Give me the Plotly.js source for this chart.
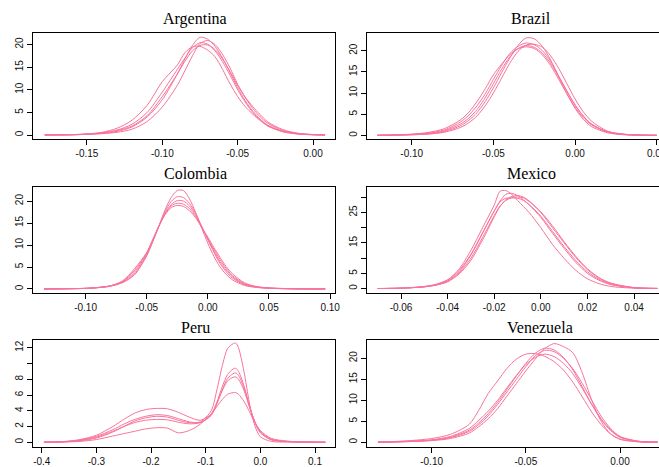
<!DOCTYPE html>
<html>
<head>
<meta charset="utf-8">
<script src="https://cdn.plot.ly/plotly-3.0.1.min.js"></script>
<style>html,body{margin:0;padding:0;background:#fff;}#chart{width:659px;height:467px;}</style>
</head>
<body>
<div id="chart"></div>
<script>
// ---------------- DATA ----------------
var countries = ['Argentina', 'Brazil', 'Colombia', 'Mexico', 'Peru', 'Venezuela'];

var argentinaX = [-0.178,-0.16,-0.15,-0.14,-0.13,-0.12,-0.11,-0.10,-0.09,-0.085,-0.08,-0.075,-0.07,-0.065,-0.06,-0.055,-0.05,-0.045,-0.04,-0.035,-0.03,-0.02,-0.01,0.0,0.008];
var argentinaCurves = [
  [0.02,0.1,0.25,0.6,1.5,3.3,6.6,11.8,15.5,18.2,19.5,19.6,18.8,17.3,14.5,11.3,8.5,6.3,4.6,3.2,2.0,0.8,0.3,0.08,0.03],
  [0.01,0.05,0.15,0.35,0.8,1.8,4.0,7.8,13.5,16.8,19.8,21.6,21.2,19.6,17.0,13.8,10.5,7.6,5.3,3.5,2.2,0.8,0.25,0.06,0.02],
  [0.01,0.05,0.15,0.3,0.6,1.3,3.0,6.2,11.0,14.2,17.5,20.2,20.9,20.0,17.8,14.8,11.2,8.3,5.9,4.0,2.6,1.0,0.35,0.1,0.03],
  [0.02,0.08,0.2,0.5,1.1,2.4,5.0,9.5,14.5,17.0,19.3,20.4,20.1,18.6,16.2,13.2,10.0,7.3,5.0,3.3,2.0,0.7,0.2,0.05,0.02],
  [0.02,0.07,0.2,0.45,1.0,2.0,4.3,8.5,13.5,16.3,18.6,19.8,19.9,18.9,16.8,14.0,11.0,8.4,6.3,4.5,2.9,1.2,0.4,0.1,0.03]
];

var brazilX = [-0.121,-0.11,-0.10,-0.09,-0.08,-0.07,-0.065,-0.06,-0.055,-0.05,-0.045,-0.04,-0.035,-0.03,-0.025,-0.02,-0.015,-0.01,-0.005,0.0,0.005,0.01,0.02,0.03,0.04,0.05];
var brazilCurves = [
  [0.02,0.06,0.15,0.35,0.9,2.3,3.6,5.4,8.0,11.2,14.8,18.2,21.2,23.0,22.8,21.0,17.8,13.8,9.8,6.4,3.8,2.1,0.6,0.15,0.04,0.01],
  [0.03,0.1,0.25,0.55,1.3,3.2,4.8,7.0,9.8,13.2,16.5,19.3,21.0,21.8,21.4,20.0,17.5,14.0,10.5,7.2,4.6,2.7,0.8,0.25,0.07,0.02],
  [0.02,0.06,0.15,0.3,0.75,1.9,3.0,4.6,7.0,10.0,13.5,17.0,19.8,21.3,21.5,20.8,18.8,15.8,12.2,8.6,5.6,3.4,1.0,0.3,0.08,0.02],
  [0.03,0.08,0.2,0.45,1.1,2.7,4.1,6.1,8.9,12.2,15.6,18.5,20.5,21.2,20.8,19.4,17.0,13.8,10.4,7.2,4.6,2.7,0.85,0.25,0.07,0.02],
  [0.04,0.12,0.3,0.7,1.6,3.7,5.5,8.0,11.0,14.3,16.8,19.0,20.4,20.9,20.5,19.0,16.5,13.2,9.8,6.7,4.2,2.5,0.75,0.22,0.06,0.02]
];

var colombiaX = [-0.134,-0.12,-0.10,-0.09,-0.08,-0.07,-0.06,-0.05,-0.045,-0.04,-0.035,-0.03,-0.025,-0.02,-0.015,-0.01,-0.005,0.0,0.005,0.01,0.015,0.02,0.03,0.04,0.05,0.07,0.096];
var colombiaCurves = [
  [0.01,0.03,0.12,0.3,0.6,1.4,3.2,7.5,10.8,14.3,18.0,20.8,22.4,22.4,20.5,17.4,13.8,10.4,7.4,5.0,3.3,2.1,0.8,0.35,0.15,0.03,0.01],
  [0.01,0.04,0.15,0.35,0.7,1.5,3.4,7.7,10.9,14.4,17.6,19.9,21.0,20.8,19.5,17.2,14.2,11.2,8.3,5.8,3.9,2.5,0.95,0.4,0.17,0.04,0.01],
  [0.01,0.04,0.14,0.3,0.65,1.6,3.8,8.0,11.0,14.2,17.2,19.2,20.1,20.0,18.9,16.9,14.2,11.3,8.6,6.2,4.3,2.8,1.1,0.45,0.2,0.05,0.01],
  [0.01,0.05,0.16,0.35,0.7,1.7,4.2,8.2,11.2,14.3,17.0,18.9,19.5,19.3,18.3,16.5,14.0,11.5,9.0,6.7,4.7,3.1,1.2,0.5,0.22,0.05,0.01],
  [0.01,0.04,0.13,0.3,0.7,1.8,4.6,8.3,11.3,14.4,16.9,18.5,19.0,18.8,17.8,16.2,14.0,11.8,9.4,7.2,5.1,3.5,1.4,0.55,0.25,0.06,0.01]
];

var mexicoX = [-0.07,-0.06,-0.05,-0.045,-0.04,-0.035,-0.03,-0.025,-0.02,-0.0175,-0.015,-0.0125,-0.01,-0.0075,-0.005,0.0,0.005,0.01,0.015,0.02,0.025,0.03,0.04,0.05];
var mexicoCurves = [
  [0.01,0.1,0.6,1.3,2.8,6.5,12.6,20.0,27.5,32.0,32.2,31.0,29.0,27.0,25.0,20.0,14.5,9.9,6.0,3.2,1.6,0.7,0.12,0.02],
  [0.01,0.12,0.6,1.2,2.5,5.6,11.0,18.2,25.5,28.8,31.0,31.3,30.6,29.2,27.5,23.4,18.2,13.2,8.6,5.0,2.7,1.3,0.22,0.03],
  [0.01,0.12,0.55,1.1,2.2,4.8,9.3,16.0,23.6,27.0,29.2,30.3,30.6,30.1,28.8,25.0,20.0,15.0,10.2,6.2,3.4,1.7,0.3,0.05],
  [0.01,0.15,0.7,1.4,2.9,6.0,11.3,18.4,25.5,28.5,29.7,29.8,29.7,29.0,27.6,23.8,18.8,13.8,9.2,5.5,3.0,1.5,0.28,0.04],
  [0.01,0.13,0.6,1.2,2.4,5.2,10.0,16.8,24.0,27.2,29.0,29.9,30.1,29.8,28.6,25.2,20.6,15.4,10.6,6.5,3.6,1.8,0.32,0.05]
];

var peruX = [-0.396,-0.36,-0.33,-0.30,-0.27,-0.25,-0.23,-0.21,-0.19,-0.17,-0.15,-0.13,-0.11,-0.09,-0.08,-0.07,-0.06,-0.05,-0.045,-0.04,-0.03,-0.02,-0.01,0.0,0.02,0.05,0.08,0.119];
var peruCurves = [
  [0.01,0.05,0.2,0.55,1.3,2.0,2.7,3.1,3.3,3.2,2.8,2.5,2.6,4.0,6.5,9.6,11.9,12.5,12.6,12.0,9.0,5.0,2.1,0.7,0.12,0.03,0.01,0.0],
  [0.02,0.1,0.35,0.9,2.0,2.9,3.7,4.15,4.3,4.25,3.8,3.2,2.8,3.6,5.0,7.0,8.6,9.3,9.4,9.0,7.2,4.6,2.5,1.2,0.3,0.08,0.03,0.01],
  [0.02,0.08,0.28,0.75,1.6,2.3,2.9,3.3,3.5,3.4,3.0,2.6,2.5,3.4,4.8,6.6,8.1,8.7,8.8,8.5,6.9,4.6,2.6,1.3,0.35,0.1,0.04,0.01],
  [0.02,0.07,0.25,0.65,1.4,2.0,2.5,2.8,2.9,2.85,2.55,2.35,2.5,3.5,4.9,6.5,7.8,8.25,8.3,8.0,6.6,4.5,2.6,1.35,0.4,0.12,0.05,0.01],
  [0.01,0.04,0.12,0.35,0.8,1.1,1.4,1.7,1.85,1.8,1.2,1.5,2.3,3.6,4.5,5.4,6.1,6.3,6.3,6.1,5.2,3.9,2.5,1.5,0.5,0.15,0.06,0.02]
];

var venezuelaX = [-0.1285,-0.115,-0.10,-0.09,-0.08,-0.075,-0.07,-0.065,-0.06,-0.055,-0.05,-0.045,-0.04,-0.035,-0.03,-0.025,-0.02,-0.015,-0.01,-0.005,0.0,0.01,0.02];
var venezuelaCurves = [
  [0.02,0.12,0.4,0.9,2.2,3.7,5.6,8.0,11.0,14.0,17.0,19.8,22.3,23.5,22.8,21.3,16.5,10.0,5.0,2.0,0.7,0.1,0.02],
  [0.03,0.15,0.5,1.2,2.9,4.6,6.8,9.5,12.6,15.8,18.8,21.2,22.4,22.0,20.2,17.2,13.2,9.0,5.4,2.8,1.2,0.2,0.03],
  [0.03,0.15,0.5,1.1,2.6,4.2,6.3,9.0,12.0,15.0,18.0,20.6,21.9,21.6,20.0,17.5,14.0,10.0,6.2,3.3,1.4,0.25,0.04],
  [0.04,0.2,0.6,1.4,3.3,5.2,7.4,10.0,13.0,15.9,18.5,20.2,21.0,20.4,18.8,16.3,12.8,9.0,5.6,3.0,1.3,0.22,0.04],
  [0.06,0.3,0.9,1.9,4.3,7.6,11.6,14.6,17.6,19.8,21.0,21.1,20.5,19.2,17.2,14.3,10.8,7.2,4.2,2.0,0.8,0.12,0.02]
];

// tick values / labels
var argentinaXTicks = [-0.15,-0.10,-0.05,0.00];
var argentinaXLabels = ['-0.15','-0.10','-0.05','0.00'];
var brazilXTicks = [-0.10,-0.05,0.00,0.05];
var brazilXLabels = ['-0.10','-0.05','0.00','0.05'];
var colombiaXTicks = [-0.10,-0.05,0.00,0.05,0.10];
var colombiaXLabels = ['-0.10','-0.05','0.00','0.05','0.10'];
var mexicoXTicks = [-0.06,-0.04,-0.02,0.00,0.02,0.04];
var mexicoXLabels = ['-0.06','-0.04','-0.02','0.00','0.02','0.04'];
var peruXTicks = [-0.4,-0.3,-0.2,-0.1,0.0,0.1];
var peruXLabels = ['-0.4','-0.3','-0.2','-0.1','0.0','0.1'];
var venezuelaXTicks = [-0.10,-0.05,0.00];
var venezuelaXLabels = ['-0.10','-0.05','0.00'];

var density20Ticks = [0,5,10,15,20];
var density20Labels = ['0','5','10','15','20'];
var mexicoYTicks = [0,5,10,15,20,25,30];
var mexicoYLabels = ['0','5','','15','','25',''];
var peruYTicks = [0,2,4,6,8,10,12];
var peruYLabels = ['0','2','4','6','8','','12'];

// ---------------- LAYOUT HELPERS ----------------
var W = 659, H = 467;
var lineColor = '#F7739A';
function px2x(p){ return p / W; }
function px2y(p){ return 1 - p / H; }

var cols = [[33, 335], [367, 659]];
var rows = [[33, 139], [187, 292.5], [340, 446.5]];

var panels = [
  {name:'Argentina', x:argentinaX, c:argentinaCurves, col:0, row:0, xr:[-0.1858,0.0146], yr:[-0.88,22.55], xt:argentinaXTicks, xl:argentinaXLabels, yt:density20Ticks, yl:density20Labels, tx:195},
  {name:'Brazil', x:brazilX, c:brazilCurves, col:1, row:0, xr:[-0.1274,0.0514], yr:[-0.85,24.16], xt:brazilXTicks, xl:brazilXLabels, yt:density20Ticks, yl:density20Labels, tx:531},
  {name:'Colombia', x:colombiaX, c:colombiaCurves, col:0, row:1, xr:[-0.143,0.104], yr:[-0.8,23.2], xt:colombiaXTicks, xl:colombiaXLabels, yt:density20Ticks, yl:density20Labels, tx:195},
  {name:'Mexico', x:mexicoX, c:mexicoCurves, col:1, row:1, xr:[-0.0746,0.0507], yr:[-1.3,33.4], xt:mexicoXTicks, xl:mexicoXLabels, yt:mexicoYTicks, yl:mexicoYLabels, tx:531},
  {name:'Peru', x:peruX, c:peruCurves, col:0, row:2, xr:[-0.416,0.1366], yr:[-0.53,12.98], xt:peruXTicks, xl:peruXLabels, yt:peruYTicks, yl:peruYLabels, tx:195},
  {name:'Venezuela', x:venezuelaX, c:venezuelaCurves, col:1, row:2, xr:[-0.1343,0.0207], yr:[-1.0,24.36], xt:venezuelaXTicks, xl:venezuelaXLabels, yt:density20Ticks, yl:density20Labels, tx:540}
];
var titleY = [19, 173, 327.5];

var tickFont = {family:'Liberation Sans, Arial, sans-serif', size:10, color:'#111'};
var traces = [];
var layout = {
  width: W, height: H,
  margin: {l:0, r:0, t:0, b:0, pad:0},
  paper_bgcolor: '#fff', plot_bgcolor: '#fff',
  showlegend: false,
  annotations: []
};

panels.forEach(function(p, i){
  var n = i + 1;
  var xk = 'xaxis' + (n === 1 ? '' : n);
  var yk = 'yaxis' + (n === 1 ? '' : n);
  var xs = 'x' + (n === 1 ? '' : n);
  var ys = 'y' + (n === 1 ? '' : n);
  p.c.forEach(function(curve){
    traces.push({
      type:'scatter', mode:'lines', x:p.x, y:curve, xaxis:xs, yaxis:ys,
      line:{color:lineColor, width:1, shape:'spline', smoothing:0.8},
      hoverinfo:'skip'
    });
  });
  var c = cols[p.col], r = rows[p.row];
  layout[xk] = {
    domain:[px2x(c[0]), px2x(c[1])], range:p.xr, anchor:ys,
    tickmode:'array', tickvals:p.xt, ticktext:p.xl, ticklabeloverflow:'allow',
    showline:true, mirror:true, linecolor:'#000', linewidth:1,
    ticks:'outside', ticklen:5, tickcolor:'#000', tickwidth:1,
    showgrid:false, zeroline:false, tickfont:tickFont, fixedrange:true
  };
  layout[yk] = {
    domain:[px2y(r[1]), px2y(r[0])], range:p.yr, anchor:xs,
    tickmode:'array', tickvals:p.yt, ticktext:p.yl, tickangle:-90,
    showline:true, mirror:(p.col === 0), linecolor:'#000', linewidth:1,
    ticks:'outside', ticklen:5, tickcolor:'#000', tickwidth:1,
    showgrid:false, zeroline:false, tickfont:tickFont, fixedrange:true
  };
  layout.annotations.push({
    text:p.name, xref:'paper', yref:'paper', x:px2x(p.tx), y:px2y(titleY[p.row]),
    xanchor:'center', yanchor:'middle', showarrow:false,
    font:{family:'Liberation Serif, Times New Roman, serif', size:16, color:'#000', weight:'normal'}
  });
});

Plotly.newPlot('chart', traces, layout, {staticPlot:true, displayModeBar:false});
</script>
</body>
</html>
